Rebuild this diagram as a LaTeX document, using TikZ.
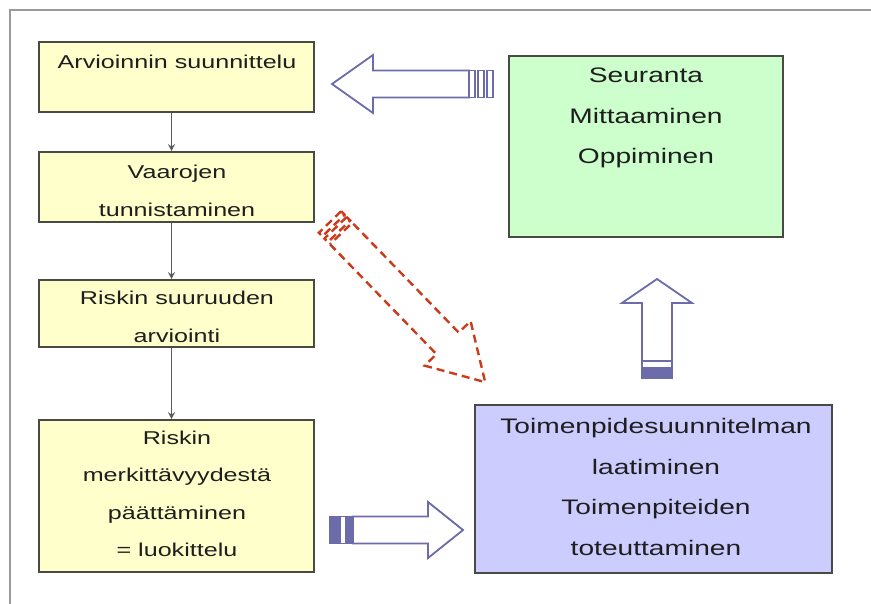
\documentclass[tikz,border=0pt]{standalone}
\usepackage{fontspec}
\setmainfont{Liberation Sans}
\usetikzlibrary{arrows.meta}

\definecolor{boxy}{HTML}{FFFFCC}
\definecolor{boxg}{HTML}{CCFFCC}
\definecolor{boxb}{HTML}{CCCCFF}
\definecolor{edge}{HTML}{4A4A44}
\definecolor{blk}{HTML}{6C6CAA}
\definecolor{dashred}{HTML}{CC3A1A}
\definecolor{txt}{HTML}{1E1E1E}
\definecolor{frame}{HTML}{9A9A9A}

% outline of a block arrow pointing along +x: tail at #1, tip at #2,
% shaft half-width #3, head half-width #4, head length #5
\newcommand{\arrowoutline}[5]{(#1,#3) -- ({#2-#5},#3) -- ({#2-#5},#4) -- (#2,0)
  -- ({#2-#5},-#4) -- ({#2-#5},-#3) -- (#1,-#3) -- cycle}

\tikzset{
  box/.style={draw=edge, line width=1.6pt, inner sep=0pt},
  ybox/.style={box, fill=boxy},
  small/.style={font=\fontsize{18.6}{37.5}\selectfont, xscale=1.35, transform shape,
    align=center, text=txt, inner sep=0pt},
  big/.style={font=\fontsize{21}{40.5}\selectfont, xscale=1.34, transform shape,
    align=center, text=txt, inner sep=0pt},
  conn/.style={draw=edge!90, line width=1.1pt, -{Stealth[length=7pt,width=7pt]}},
  blockarrow/.style={draw=blk, line width=1.8pt, line join=miter, fill=white},
  stripe/.style={draw=blk, line width=1.4pt, fill=white},
  stripefill/.style={draw=blk, line width=1.4pt, fill=blk},
  dasharrow/.style={draw=dashred, line width=2.4pt, dash pattern=on 8pt off 5pt}
}

\begin{document}
\begin{tikzpicture}[x=1pt,y=-1pt]
\useasboundingbox (0,0) rectangle (871,604);
\fill[white] (0,0) rectangle (871,604);

% outer frame
\draw[frame, line width=2pt] (10,604) -- (10,10) -- (871,10);

% process chain on the left
\node[ybox, minimum width=275pt, minimum height=70pt] (b1) at (176.5,77) {};
\node[ybox, minimum width=275pt, minimum height=70pt] (b2) at (176.5,187) {};
\node[ybox, minimum width=275pt, minimum height=67pt] (b3) at (176.5,313.5) {};
\node[ybox, minimum width=275pt, minimum height=152pt] (b4) at (176.5,496) {};

\node[small] (t1) at (177,62) {Arvioinnin suunnittelu};
\node[small] (t2) at (177,191) {Vaarojen\\tunnistaminen};
\node[small] (t3) at (177,317) {Riskin suuruuden\\arviointi};
\node[small] (t4) at (177,494) {Riskin\\merkittävyydestä\\päättäminen\\= luokittelu};

% follow-up and action boxes
\node[box, fill=boxg, minimum width=274pt, minimum height=181pt] (seur) at (646,146.5) {};
\node[big] (ts) at (646,118) {Seuranta\\Mittaaminen\\Oppiminen};

\node[box, fill=boxb, minimum width=357pt, minimum height=168pt] (toim) at (653.5,489) {};
\node[big] (tt) at (656,487) {Toimenpidesuunnitelman\\laatiminen\\Toimenpiteiden\\toteuttaminen};

% connectors between the steps
\draw[conn] ([xshift=-5pt]b1.south) -- ([xshift=-5pt]b2.north);
\draw[conn] ([xshift=-5pt]b2.south) -- ([xshift=-5pt]b3.north);
\draw[conn] ([xshift=-5pt]b3.south) -- ([xshift=-5pt]b4.north);

% block arrow: Seuranta -> Arvioinnin suunnittelu
\begin{scope}[shift={(493,84)}, rotate=180]
  \draw[stripe] (0,-13.5) rectangle (6,13.5);
  \draw[stripe] (9,-13.5) rectangle (15,13.5);
  \draw[stripe] (18,-13.5) rectangle (24,13.5);
  \draw[blockarrow] \arrowoutline{24}{161}{13.5}{29}{41};
\end{scope}

% block arrow: Toimenpiteet -> Seuranta
\begin{scope}[shift={(657,378)}, rotate=90]
  \draw[stripe] (0,-15) rectangle (17,15);
  \draw[stripefill] (0,-15) rectangle (10,15);
  \draw[blockarrow] \arrowoutline{17}{99}{15}{35}{24};
\end{scope}

% block arrow: luokittelu -> Toimenpiteet
\begin{scope}[shift={(330,530)}]
  \draw[stripe] (0,-13.5) rectangle (23,13.5);
  \draw[stripefill] (0,-13.5) rectangle (10,13.5);
  \draw[stripefill] (16,-13.5) rectangle (23,13.5);
  \draw[blockarrow] \arrowoutline{23}{133}{13.5}{28}{35};
\end{scope}

% dashed block arrow: Vaarojen tunnistaminen -> Toimenpiteet
\begin{scope}[shift={(330,222)}, rotate=-45.9]
  \draw[dasharrow] (0,-15.5) rectangle (5,15.5);
  \draw[dasharrow] (8,-15.5) rectangle (13,15.5);
  \draw[dasharrow] \arrowoutline{16}{223}{15.5}{32}{54};
\end{scope}
\end{tikzpicture}
\end{document}
